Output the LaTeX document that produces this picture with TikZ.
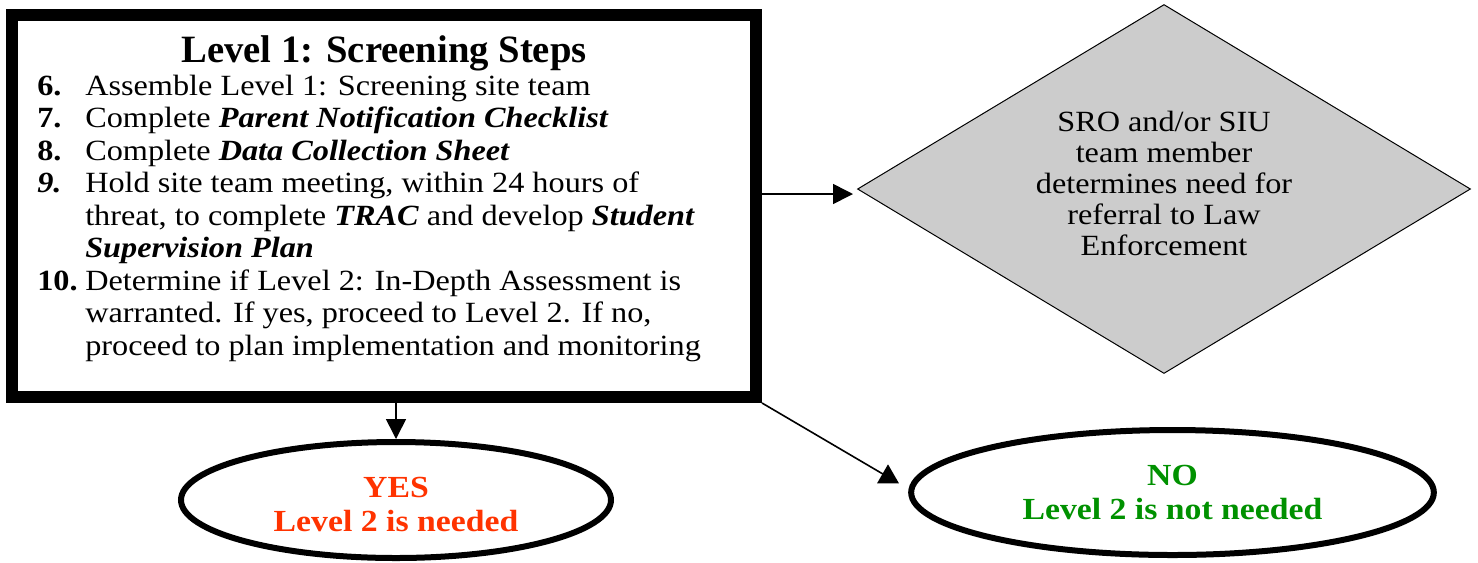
\documentclass[tikz,border=0pt]{standalone}
\usepackage{fontspec}
\setmainfont{Liberation Serif}[FakeStretch=1.1]
\newfontfamily\titlefont{Liberation Serif}
\usetikzlibrary{shapes.geometric,arrows.meta}

\definecolor{yesred}{RGB}{255,51,0}
\definecolor{nogreen}{RGB}{0,145,0}
\definecolor{diagray}{RGB}{204,204,204}

\begin{document}
\begin{tikzpicture}[x=0.75pt,y=0.75pt,yscale=-1,xscale=1,
    arr/.style={line width=1.2pt,-{Triangle[length=15pt,width=15pt]}},
    oval/.style={ellipse,draw,line width=4.5pt,align=center,font=\fontsize{23}{25.5}\selectfont\bfseries}]
        \path[use as bounding box] (0,0) rectangle (1478,562);

        %Shape: Rectangle [screening box]
        \draw (384,206) node [draw,line width=9pt,minimum width=558pt,minimum height=286.5pt,inner sep=0pt] (screen) {};

        % Text Node
        \draw (384,62) node [anchor=base][inner sep=0pt] (title) {\titlefont\fontsize{29}{30}\selectfont\bfseries Level 1: Screening Steps};
        % Text Node
        \draw (37,95) node [anchor=base west][inner sep=0pt] (steps) {\fontsize{22}{24.4}\selectfont
            \begin{tabular}[t]{@{}p{36pt}@{}l@{}}
                \textbf{6.} & Assemble Level 1: Screening site team\\
                \textbf{7.} & Complete \textbf{\textit{Parent Notification Checklist}}\\
                \textbf{8.} & Complete \textbf{\textit{Data Collection Sheet}}\\
                \textbf{\textit{9.}} & Hold site team meeting, within 24 hours of\\
                & threat, to complete \textbf{\textit{TRAC}} and develop \textbf{\textit{Student}}\\
                & \textbf{\textit{Supervision Plan}}\\
                \textbf{10.} & Determine if Level 2: In-Depth Assessment is\\
                & warranted. If yes, proceed to Level 2. If no,\\
                & proceed to plan implementation and monitoring
            \end{tabular}};

        %Shape: Diamond
        \draw (1164,189) node [diamond,aspect=1.66,draw,fill=diagray,line width=0.75pt,minimum width=459.75pt,minimum height=276.75pt,inner sep=0pt,align=center,font=\fontsize{22}{23.25}\selectfont] (decide) {SRO and/or SIU\\team member\\determines need for\\referral to Law\\Enforcement\rule[-9pt]{0pt}{0pt}};

        %Shape: Ellipse
        \draw (396,500) node [oval,text=yesred,minimum width=322.5pt,minimum height=87pt] (yes) {\rule{0pt}{22pt}YES\\Level 2 is needed};
        %Shape: Ellipse
        \draw (1172.5,492.5) node [oval,text=nogreen,minimum width=392pt,minimum height=93.75pt] (no) {NO\\Level 2 is not needed};

        % Arrows
        \draw [arr] ([yshift=3.75pt]screen.east |- decide.west) -- ([yshift=3.75pt,xshift=-3pt]decide.west);
        \draw [arr] (screen.south -| yes.north) -- (yes.north);
        \draw (888,477) node [regular polygon,regular polygon sides=3,fill=black,minimum size=19pt,inner sep=0pt] (nohead) {};
        \draw [line width=1.2pt] (screen.south east) -- (nohead.center);

\end{tikzpicture}
\end{document}
